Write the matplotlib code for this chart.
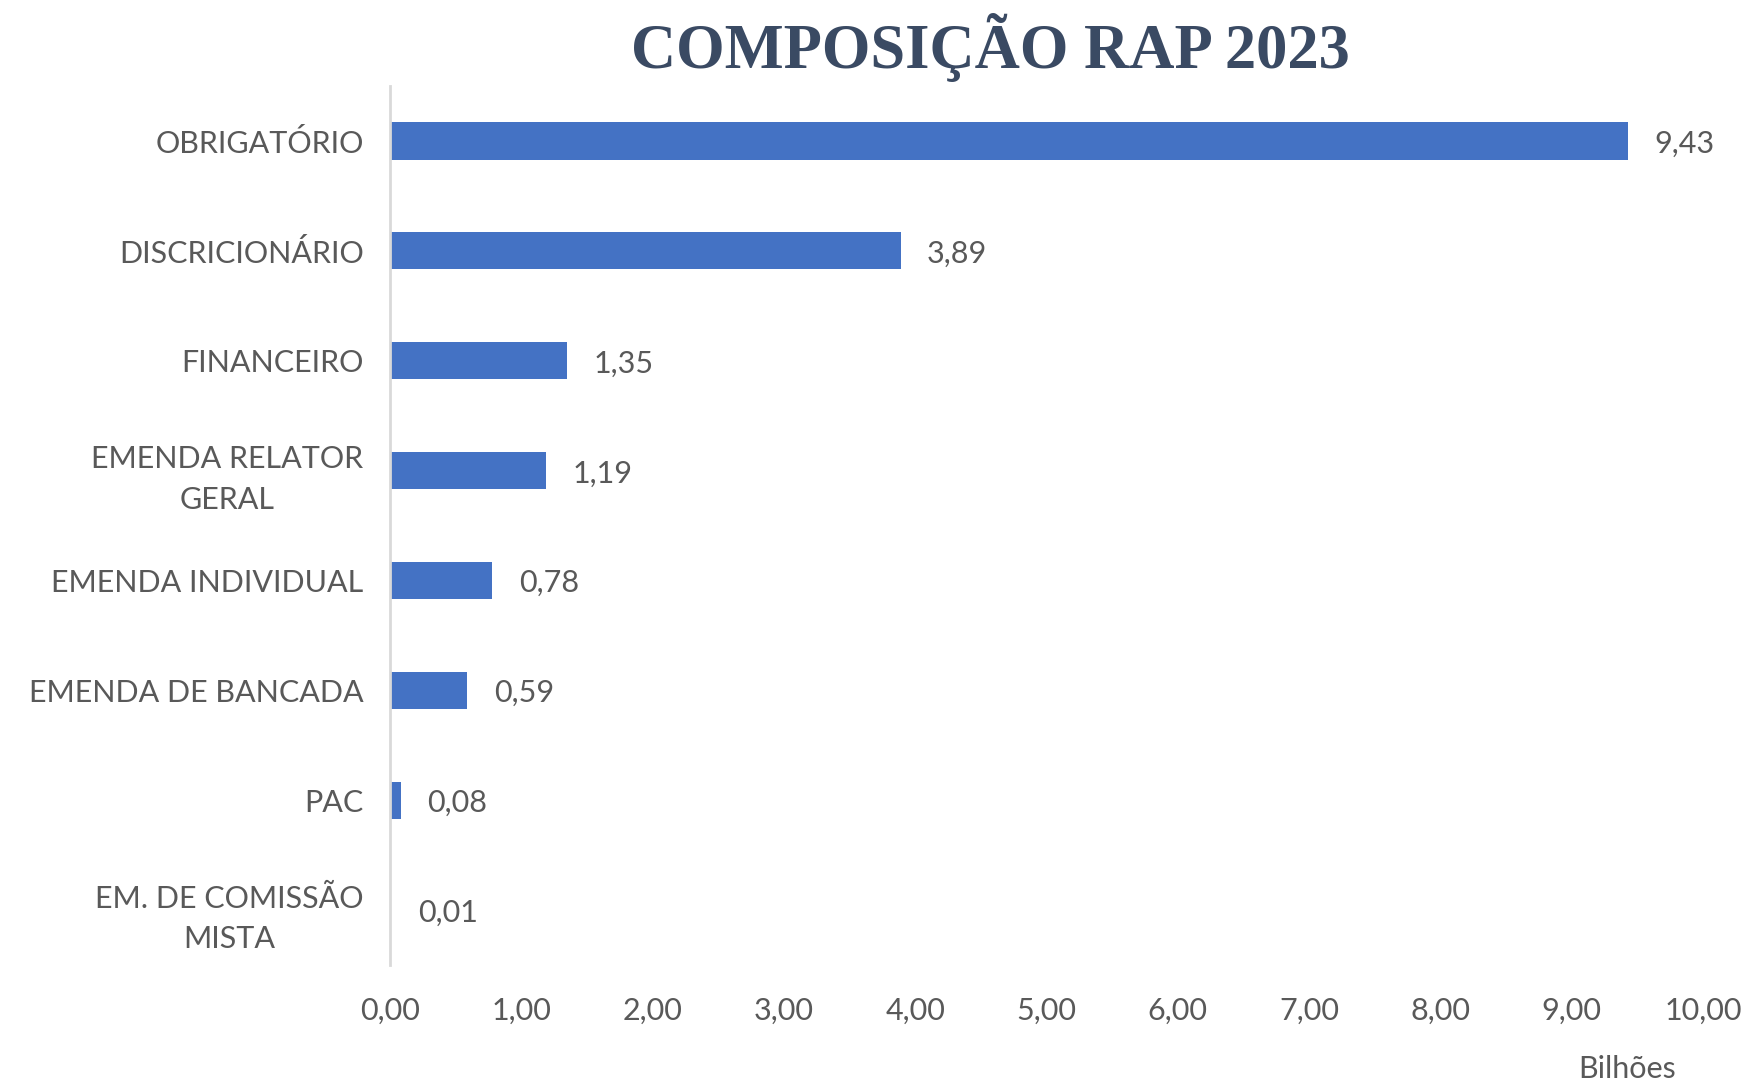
import matplotlib
matplotlib.use("Agg")
import matplotlib.pyplot as plt

categories = ["OBRIGATÓRIO", "DISCRICIONÁRIO", "FINANCEIRO", "EMENDA RELATOR\nGERAL",
              "EMENDA INDIVIDUAL", "EMENDA DE BANCADA", "PAC", "EM. DE COMISSÃO\nMISTA"]
values = [9.43, 3.89, 1.35, 1.19, 0.78, 0.59, 0.08, 0.01]
xticks = [0, 1, 2, 3, 4, 5, 6, 7, 8, 9, 10]
title = "COMPOSIÇÃO RAP 2023"
unit_label = "Bilhões"

def br(v):
    return f"{v:.2f}".replace(".", ",")

W, H = 1749, 1084
fig = plt.figure(figsize=(W/100, H/100), dpi=100)
ax = fig.add_axes([390/W, 1-965/H, (1703-390)/W, (965-86)/H])

gray = "#595959"
font = "Lato"
fs = 22
ypos = list(range(len(categories)))
ax.barh(ypos, values, height=0.34, color="#4472C4")
ax.set_ylim(len(categories)-0.5, -0.5)
ax.set_xlim(0, 10)
for y, v in zip(ypos, values):
    ax.annotate(br(v), (v, y), xytext=(19, -2), textcoords="offset points",
                ha="left", va="center", fontsize=fs, color=gray, family=font)

ax.set_yticks(ypos)
ax.set_yticklabels(categories, fontsize=fs, color=gray, family=font,
                   multialignment="center", linespacing=1.55)
ax.set_xticks(xticks)
ax.set_xticklabels([br(t) for t in xticks], fontsize=fs, color=gray, family=font)
ax.tick_params(axis="both", length=0)
ax.tick_params(axis="y", pad=19)
ax.tick_params(axis="x", pad=23)
for s in ["top", "right", "bottom"]:
    ax.spines[s].set_visible(False)
ax.spines["left"].set_color("#D9D9D9")
ax.spines["left"].set_linewidth(2)

fig.text(990/W, 1-47/H, title, ha="center", va="center", fontsize=45,
         family="Liberation Serif", fontweight="bold", color="#3A4A63")
fig.text(1627/W, 1-1069/H, unit_label, ha="center", va="center", fontsize=fs,
         color=gray, family=font)

fig.savefig("out.png", dpi=100, facecolor="white")
